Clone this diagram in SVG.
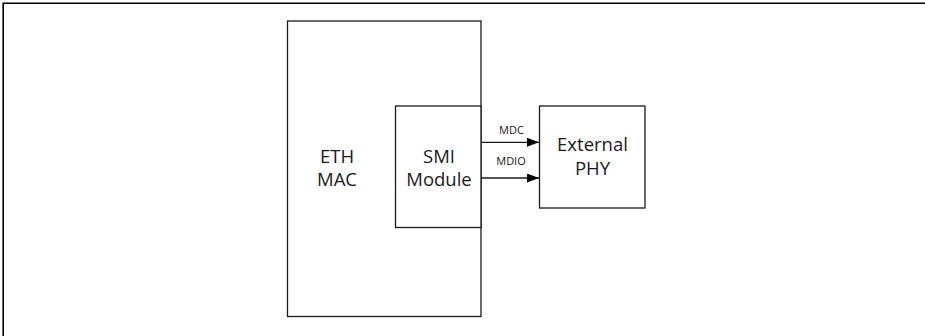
<svg xmlns="http://www.w3.org/2000/svg" width="925" height="336" viewBox="0 0 925 336">
<defs>
<style>
.box{fill:#fff;stroke:#1a1a1a;stroke-width:1.3}
.t{font-family:"Open Sans","Liberation Sans",sans-serif;font-size:18.5px;fill:#1a1a1a;text-anchor:middle}
.s{font-family:"Open Sans","Liberation Sans",sans-serif;font-size:11px;fill:#1a1a1a;text-anchor:middle}
.w{stroke:#1a1a1a;stroke-width:1.3;fill:none}
</style>
<marker id="ah" markerWidth="12" markerHeight="9" refX="12" refY="4.5" orient="auto" markerUnits="userSpaceOnUse">
<path d="M0,0 L12,4.5 L0,9 Z" fill="#000"/>
</marker>
</defs>
<rect width="925" height="336" fill="#fff"/>
<path d="M3.2,336 V3.2 H925" fill="none" stroke="#000" stroke-width="1.6"/>
<g id="eth-mac">
<rect class="box" x="287.5" y="21" width="193.5" height="295.5"/>
<text class="t" x="337" y="162.7">ETH</text>
<text class="t" x="337" y="186">MAC</text>
</g>
<g id="smi-module">
<rect class="box" x="395.5" y="106" width="85.5" height="121.5"/>
<text class="t" x="439" y="162.7">SMI</text>
<text class="t" x="439" y="186">Module</text>
</g>
<g id="external-phy">
<rect class="box" x="539.5" y="106" width="105.5" height="102"/>
<text class="t" x="592.5" y="151">External</text>
<text class="t" x="592.5" y="174.5">PHY</text>
</g>
<g id="connectors">
<line class="w" x1="481" y1="142.3" x2="539" y2="142.3" marker-end="url(#ah)"/>
<text class="s" x="511.5" y="134">MDC</text>
<line class="w" x1="481" y1="178" x2="539" y2="178" marker-end="url(#ah)"/>
<text class="s" x="511" y="164.5">MDIO</text>
</g>
</svg>
